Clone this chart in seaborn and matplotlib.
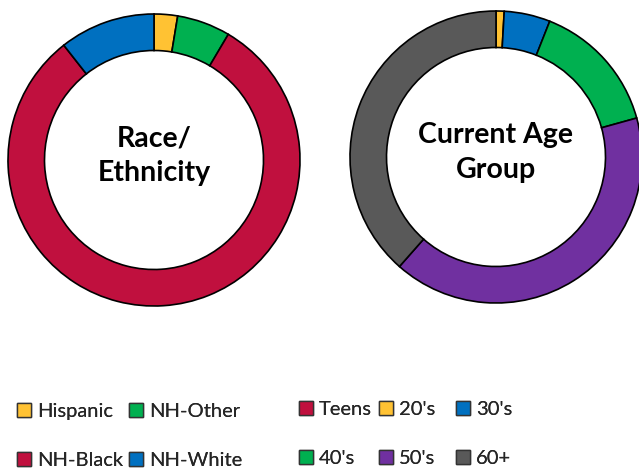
import numpy as np
import matplotlib
matplotlib.use("Agg")
import matplotlib.pyplot as plt
import seaborn as sns
from matplotlib.patches import Patch

# Race / ethnicity shares (%), clockwise from 12 o'clock
race_labels = ["Hispanic", "NH-Other", "NH-Black", "NH-White"]
race_values = [2.6, 5.9, 80.9, 10.6]
race_colors = ["#FFC233", "#00B050", "#C0103E", "#0070C0"]

# Current age group shares (%)
age_labels = ["Teens", "20's", "30's", "40's", "50's", "60+"]
age_values = [0.0, 0.9, 5.1, 14.7, 40.8, 38.5]
age_colors = ["#C0103E", "#FFC233", "#0070C0", "#00B050", "#7030A0", "#595959"]

sns.set_theme(style="white")
plt.rcParams["font.family"] = ["Lato", "DejaVu Sans"]

W, H = 639, 469
fig = plt.figure(figsize=(W / 100, H / 100), dpi=100)


def donut(cx, cy, r, values, colors, title):
    ax = fig.add_axes([(cx - r) / W, (H - cy - r) / H, 2 * r / W, 2 * r / H])
    wedges, _ = ax.pie(values, colors=colors, startangle=90, counterclock=False,
                       radius=1, wedgeprops=dict(width=0.25, edgecolor="black", linewidth=1.2))
    for w in wedges:
        w.set_clip_on(False)
    ax.set_xlim(-1, 1)
    ax.set_ylim(-1, 1)
    ax.set_aspect("equal")
    ax.axis("off")
    ax.text(0, 0.03, title, ha="center", va="center", fontsize=20.5, fontweight="bold",
            linespacing=1.4, color="black")
    return ax


donut(154, 160, 146, race_values, race_colors, "Race/\nEthnicity")
donut(496, 157, 146, age_values, age_colors, "Current Age\nGroup")

leg_kw = dict(frameon=False, fontsize=14.5, handlelength=0.7, handleheight=0.7,
              handletextpad=0.3, labelspacing=1.6, borderaxespad=0, borderpad=0,
              loc="upper left")


def legend_grid(labels, colors, ncol, col_x, top_y):
    # one small legend per column so the columns sit where the original has them
    for c in range(ncol):
        handles = [Patch(facecolor=colors[i], edgecolor="#333333", linewidth=1.0, label=labels[i])
                   for i in range(c, len(labels), ncol)]
        leg = fig.legend(handles=handles, bbox_to_anchor=(col_x[c] / W, 1 - top_y / H), **leg_kw)
        fig.add_artist(leg)


legend_grid(race_labels, race_colors, 2, [17, 129], 403)
legend_grid(age_labels, age_colors, 3, [299, 379, 456], 401)

fig.savefig("out.png", dpi=100, facecolor="white")
